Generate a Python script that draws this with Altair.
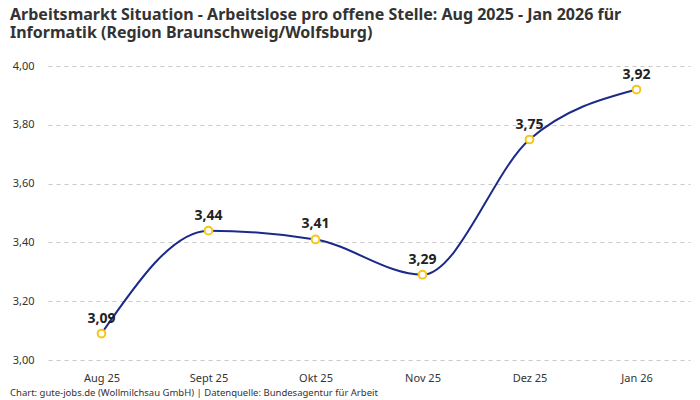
import altair as alt
import pandas as pd

months = ["Aug 25", "Sept 25", "Okt 25", "Nov 25", "Dez 25", "Jan 26"]
ratio = [3.09, 3.44, 3.41, 3.29, 3.75, 3.92]

df = pd.DataFrame({"monat": months, "wert": ratio})

FONT = "Noto Sans"
W, H = 642, 294

title = alt.TitleParams(
    ["Arbeitsmarkt Situation - Arbeitslose pro offene Stelle: Aug 2025 - Jan 2026 für",
     "Informatik (Region Braunschweig/Wolfsburg)"],
    anchor="start", frame="bounds", fontSize=16, fontWeight="bold",
    color="#333333", font=FONT, offset=19, lineHeight=18)

x = alt.X("monat:N", sort=months, title=None,
          scale=alt.Scale(paddingInner=0, paddingOuter=0.5),
          axis=alt.Axis(labelAngle=0, ticks=False, domain=False, labelPadding=12,
                        labelFont=FONT, labelFontSize=11, labelColor="#333333"))
y = alt.Y("wert:Q", title=None,
          scale=alt.Scale(domain=[3, 4], nice=False, zero=False),
          axis=alt.Axis(values=[3, 3.2, 3.4, 3.6, 3.8, 4.0], ticks=False, domain=False,
                        labelPadding=14, labelFont=FONT, labelFontSize=11,
                        labelColor="#333333", gridDash=[4, 4], gridColor="#c8c8c8",
                        labelExpr="replace(format(datum.value, '.2f'), '.', ',')"))

base = alt.Chart(df).encode(x=x, y=y)

line = base.mark_line(interpolate="monotone", color="#1b2a8a", strokeWidth=2)
points = base.mark_point(filled=False, fill="white", color="#f5c518",
                         size=60, strokeWidth=2, opacity=1)
labels = base.transform_calculate(
    txt="replace(format(datum.wert, '.2f'), '.', ',')"
).mark_text(dy=-15, fontSize=14, fontWeight="bold", font=FONT, color="#222222").encode(
    text="txt:N")

footer = alt.Chart(pd.DataFrame({"t": ["Chart: gute-jobs.de (Wollmilchsau GmbH) | Datenquelle: Bundesagentur für Arbeit"]})).mark_text(
    align="left", baseline="middle", fontSize=9.5, font=FONT, color="#333333"
).encode(x=alt.value(-38), y=alt.value(H + 33), text="t:N")

chart = (line + points + labels + footer).properties(
    width=W, height=H, title=title,
    autosize=alt.AutoSizeParams(type="none"),
    padding={"left": 40, "top": 58, "right": 2, "bottom": 42},
).configure_view(strokeWidth=0)

chart.save("out.html", embed_options={"renderer": "svg", "actions": False})
